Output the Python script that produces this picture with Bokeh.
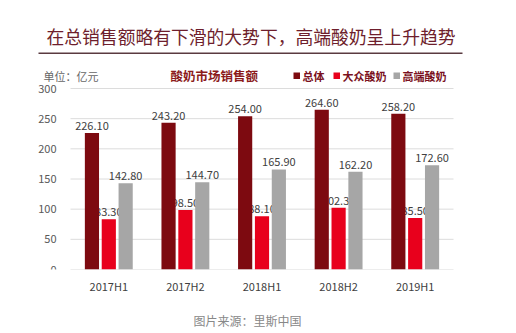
from bokeh.plotting import figure
from bokeh.layouts import column
from bokeh.models import Label, ColumnDataSource, FixedTicker, Range1d, BoxAnnotation
from bokeh.transform import dodge
from bokeh.core.properties import value
from bokeh.embed import file_html
from bokeh.resources import INLINE

categories = ["2017H1", "2017H2", "2018H1", "2018H2", "2019H1"]
total = [226.10, 243.20, 254.00, 264.60, 258.20]
mass = [83.30, 98.50, 88.10, 102.30, 85.50]
premium = [142.80, 144.70, 165.90, 162.20, 172.60]
y_ticks = [0, 50, 100, 150, 200, 250, 300]
series_names = ["总体", "大众酸奶", "高端酸奶"]

FONT = "Noto Sans CJK SC"
C_TOTAL = "#7d0a10"
C_MASS = "#e8001c"
C_PREM = "#a6a6a6"

# layout constants (pixels)
W = 516
MAIN_H = 300
BOT_H = 333 - MAIN_H
PX_L, PX_R = 70, 453      # plot area left/right
PX_TOP, PX_BOT = 88, 269  # pixel of y=300 and y=0
Y_MAX = 300

n = len(categories)
band = (PX_R - PX_L) / n
x_start = -0.5 - PX_L / band
x_end = x_start + W / band
y_end = Y_MAX * PX_BOT / (PX_BOT - PX_TOP)

p = figure(width=W, height=MAIN_H, x_range=Range1d(x_start, x_end), y_range=Range1d(0, y_end),
           output_backend="svg", toolbar_location=None, frame_align=False,
           y_axis_location=None,
           min_border=0, min_border_left=0, min_border_right=0, min_border_top=0,
           min_border_bottom=MAIN_H - PX_BOT)
p.outline_line_color = None
p.background_fill_color = "white"
p.border_fill_color = "white"
p.grid.visible = False

# x axis (real axis, category names as labels)
p.xaxis.ticker = FixedTicker(ticks=list(range(n)))
p.xaxis.major_label_overrides = {i: c for i, c in enumerate(categories)}
p.xaxis.axis_line_color = None
p.xaxis.major_tick_line_color = None
p.xaxis.minor_tick_line_color = None
p.xaxis.major_tick_out = 0
p.xaxis.major_tick_in = 0
p.xaxis.major_label_standoff = 8
p.xaxis.major_label_text_font = FONT
p.xaxis.major_label_text_font_size = "11px"
p.xaxis.major_label_text_color = "#404040"

# horizontal grid lines and y tick labels
left_edge = -0.5
right_edge = n - 0.5
p.segment(x0=[left_edge] * len(y_ticks), x1=[right_edge] * len(y_ticks),
          y0=y_ticks, y1=y_ticks, line_color="#dcdcdc", line_width=1)
p.text(x=[left_edge] * len(y_ticks), y=y_ticks, text=[str(t) for t in y_ticks],
       x_offset=-14, text_align="right", text_baseline="middle",
       text_font=value(FONT), text_font_size="11px", text_color="#595959")

src = ColumnDataSource(dict(
    idx=list(range(n)), total=total, mass=mass, premium=premium,
    total_t=["%.2f" % v for v in total],
    mass_t=["%.2f" % v for v in mass],
    premium_t=["%.2f" % v for v in premium],
))

off = 0.22
w = 0.185
lbl_kw = dict(source=src, text_align="center", text_baseline="bottom", y_offset=-3,
              text_font=value(FONT), text_font_size="11px", text_color="#404040")
p.text(x=dodge("idx", -off), y="total", text="total_t", **lbl_kw)
p.text(x=dodge("idx", 0.0), y="mass", text="mass_t", **lbl_kw)
p.text(x=dodge("idx", off), y="premium", text="premium_t", **lbl_kw)

p.vbar(x=dodge("idx", -off), top="total", width=w, source=src, fill_color=C_TOTAL, line_color=None)
p.vbar(x=dodge("idx", 0.0), top="mass", width=w, source=src, fill_color=C_MASS, line_color=None)
p.vbar(x=dodge("idx", off), top="premium", width=w, source=src, fill_color=C_PREM, line_color=None)


# ---------- headline, unit, chart title, legend (screen px inside the frame) ----------
def sx(X):
    return X


def sy(Y):
    return PX_BOT - Y


def label(f, X, Y, text, size, color, bold=False):
    f.add_layout(Label(x=X, y=Y, x_units="screen", y_units="screen", text=text,
                       text_font=FONT, text_font_size=size,
                       text_font_style="bold" if bold else "normal",
                       text_color=color, text_baseline="middle", text_align="left"))


def box(X0, X1, Y0, Y1, color):
    p.add_layout(BoxAnnotation(left=sx(X0), right=sx(X1), top=sy(Y0), bottom=sy(Y1),
                               left_units="screen", right_units="screen",
                               top_units="screen", bottom_units="screen",
                               fill_color=color, fill_alpha=1, line_color=None))


label(p, sx(46), sy(35), "在总销售额略有下滑的大势下，高端酸奶呈上升趋势", "17.8px", "#6e1e2c")
box(38, 462, 52, 53.6, "#5a3a40")
label(p, sx(43), sy(75), "单位：亿元", "11px", "#666666")
label(p, sx(170), sy(75), "酸奶市场销售额", "12.5px", "#8b1a1a", bold=True)
leg_colors = [C_TOTAL, C_MASS, C_PREM]
sq_x = [293, 333, 393]
for name, c, x0 in zip(series_names, leg_colors, sq_x):
    box(x0, x0 + 6.5, 72, 78.5, c)
    label(p, sx(x0 + 9), sy(75), name, "11px", "#7a1020", bold=True)

# ---------- bottom: source ----------
bot = figure(width=W, height=BOT_H, x_range=Range1d(0, W), y_range=Range1d(BOT_H, 0),
             output_backend="svg", toolbar_location=None, frame_align=False,
             x_axis_location=None, y_axis_location=None,
             min_border=0, min_border_left=0, min_border_right=0,
             min_border_top=0, min_border_bottom=0)
bot.grid.visible = False
bot.outline_line_color = None
bot.background_fill_color = "white"
bot.border_fill_color = "white"
bot.add_layout(Label(x=193, y=320 - MAIN_H, text="图片来源：里斯中国", text_font=FONT,
                     text_font_size="12px", text_color="#888888",
                     text_baseline="middle", text_align="left"))

layout = column(p, bot, spacing=0)
open("out.html", "w").write(file_html(layout, INLINE))
